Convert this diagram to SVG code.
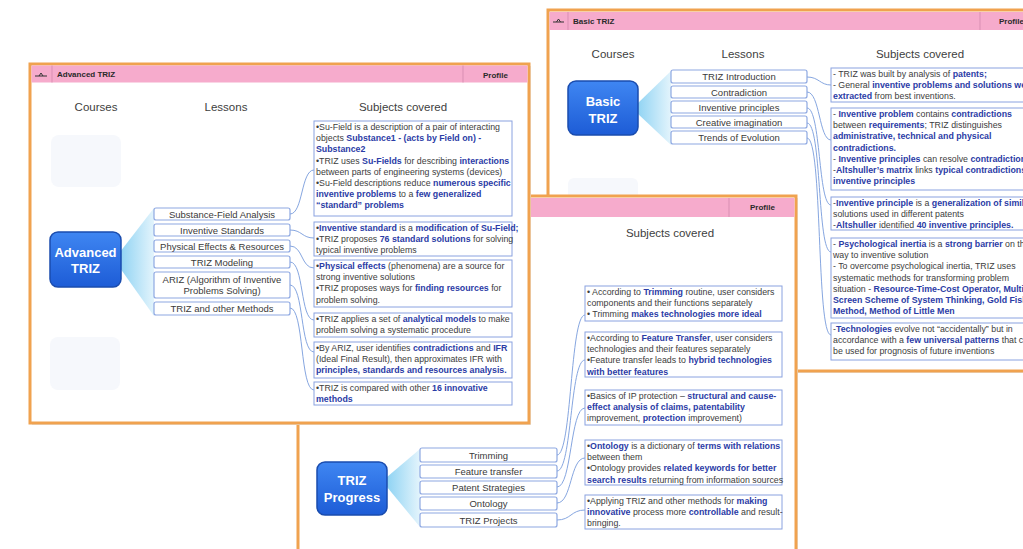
<svg xmlns="http://www.w3.org/2000/svg" width="1023" height="549" viewBox="0 0 1023 549">
<defs>
<linearGradient id="gb" x1="0" y1="0" x2="0" y2="1"><stop offset="0" stop-color="#3f86f2"/><stop offset="1" stop-color="#1d5cd6"/></linearGradient>
<linearGradient id="gf" x1="0" y1="0" x2="1" y2="0"><stop offset="0" stop-color="#8fd3f3"/><stop offset="1" stop-color="#e3f4fc"/></linearGradient>
<style>
.slide{fill:#fff;stroke:#f0a24f;stroke-width:3}
.shadow{fill:#e6e6e6}
.hdr{fill:#f6abcc}
.sep{stroke:#d98fb3;stroke-width:1}
.htxt{font-family:"Liberation Sans",Arial,sans-serif;font-size:8px;font-weight:bold;fill:#2a2a2a}
.col{font-family:"Liberation Sans",Arial,sans-serif;font-size:11.5px;fill:#404040;text-anchor:middle}
.cbox{fill:url(#gb);stroke:#1a4cae;stroke-width:1.5}
.ctxt{font-family:"Liberation Sans",Arial,sans-serif;font-size:13px;font-weight:bold;fill:#fff;text-anchor:middle}
.ghost{fill:#f6f8fc}
.fan{fill:url(#gf)}
.lbox{fill:#fff;stroke:#8ea8e2;stroke-width:1.2}
.ltxt{font-family:"Liberation Sans Narrow","Liberation Sans",Arial,sans-serif;font-size:9.5px;fill:#3a3a3a;text-anchor:middle}
.sbox{fill:#fff;stroke:#8aa2e0;stroke-width:1}
.stxt{font-family:"Liberation Sans Narrow","Liberation Sans",Arial,sans-serif;font-size:8.8px;fill:#3c3c3c}
.b{font-weight:bold;fill:#2b3ca6}
.conn{fill:none;stroke:#86a6e0;stroke-width:1}
.icon{fill:none;stroke:#333;stroke-width:1}
</style>
</defs>
<rect width="1023" height="549" fill="#fff"/>

<!-- ===== Basic TRIZ slide (back) ===== -->
<g id="slide-basic">
<rect class="shadow" x="550" y="12" width="490" height="361"/>
<rect class="slide" x="548" y="10" width="490" height="361"/>
<rect class="hdr" x="549.5" y="12" width="480" height="18"/>
<line class="sep" x1="568" y1="12" x2="568" y2="30"/>
<line class="sep" x1="980" y1="12" x2="980" y2="30"/>
<path class="icon" d="M553,22 h11 M556.5,22 l2,-3 l2,3"/>
<text class="htxt" x="573" y="24">Basic TRIZ</text>
<text class="htxt" x="999" y="24">Profile</text>
<text class="col" x="613" y="58">Courses</text>
<text class="col" x="743" y="58">Lessons</text>
<text class="col" x="920" y="58">Subjects covered</text>
<rect class="ghost" x="568" y="178" width="70" height="30" rx="6"/>
</g>
<g id="basic-course">
<polygon class="fan" points="637,104 671,71 671,145 637,113"/>
<rect class="cbox" x="568" y="81" width="70" height="54" rx="8"/>
<text class="ctxt" x="603" y="106">Basic</text>
<text class="ctxt" x="603" y="123">TRIZ</text>
</g>
<g id="basic-lessons">
<rect class="lbox" x="671" y="70" width="136" height="13" rx="2"/><text class="ltxt" x="739" y="80">TRIZ Introduction</text>
<rect class="lbox" x="671" y="86" width="136" height="12" rx="2"/><text class="ltxt" x="739" y="95.5">Contradiction</text>
<rect class="lbox" x="671" y="101" width="136" height="12" rx="2"/><text class="ltxt" x="739" y="110.5">Inventive principles</text>
<rect class="lbox" x="671" y="116" width="136" height="12" rx="2"/><text class="ltxt" x="739" y="125.5">Creative imagination</text>
<rect class="lbox" x="671" y="131" width="136" height="13" rx="2"/><text class="ltxt" x="739" y="141">Trends of Evolution</text>
</g>
<g id="basic-subjects">
<rect class="sbox" x="831" y="68" width="200" height="34"/>
<text class="stxt" x="833" y="77">- TRIZ was built by analysis of <tspan class="b">patents;</tspan></text>
<text class="stxt" x="833" y="88.2">- General <tspan class="b">inventive problems and solutions were</tspan></text>
<text class="stxt" x="833" y="99.4"><tspan class="b">extracted</tspan> from best inventions.</text>
<rect class="sbox" x="831" y="108" width="200" height="82"/>
<text class="stxt" x="833" y="117">- <tspan class="b">Inventive problem</tspan> contains <tspan class="b">contradictions</tspan></text>
<text class="stxt" x="833" y="128.2">between <tspan class="b">requirements</tspan>; TRIZ distinguishes</text>
<text class="stxt" x="833" y="139.4"><tspan class="b">administrative, technical and physical</tspan></text>
<text class="stxt" x="833" y="150.6"><tspan class="b">contradictions.</tspan></text>
<text class="stxt" x="833" y="161.8">- <tspan class="b">Inventive principles</tspan> can resolve <tspan class="b">contradictions</tspan></text>
<text class="stxt" x="833" y="173">-<tspan class="b">Altshuller’s matrix</tspan> links <tspan class="b">typical contradictions</tspan> to</text>
<text class="stxt" x="833" y="184.2"><tspan class="b">inventive principles</tspan></text>
<rect class="sbox" x="831" y="197" width="200" height="33"/>
<text class="stxt" x="833" y="206">-<tspan class="b">Inventive principle</tspan> is a <tspan class="b">generalization of similar</tspan></text>
<text class="stxt" x="833" y="217.2">solutions used in different patents</text>
<text class="stxt" x="833" y="228.4">-<tspan class="b">Altshuller</tspan> identified <tspan class="b">40 inventive principles.</tspan></text>
<rect class="sbox" x="831" y="238" width="200" height="80"/>
<text class="stxt" x="833" y="247">- <tspan class="b">Psychological inertia</tspan> is a <tspan class="b">strong barrier</tspan> on the</text>
<text class="stxt" x="833" y="258.2">way to inventive solution</text>
<text class="stxt" x="833" y="269.4">- To overcome psychological inertia, TRIZ uses</text>
<text class="stxt" x="833" y="280.6">systematic methods for transforming problem</text>
<text class="stxt" x="833" y="291.8">situation - <tspan class="b">Resource-Time-Cost Operator, Multi-</tspan></text>
<text class="stxt" x="833" y="303"><tspan class="b">Screen Scheme of System Thinking, Gold Fish</tspan></text>
<text class="stxt" x="833" y="314.2"><tspan class="b">Method, Method of Little Men</tspan></text>
<rect class="sbox" x="831" y="323" width="200" height="37"/>
<text class="stxt" x="833" y="332">-<tspan class="b">Technologies</tspan> evolve not “accidentally” but in</text>
<text class="stxt" x="833" y="343.2">accordance with a <tspan class="b">few universal patterns</tspan> that can</text>
<text class="stxt" x="833" y="354.4">be used for prognosis of future inventions</text>
</g>
<g id="basic-connectors">
<path class="conn" d="M807,77 C819,77 820,85 831,85"/>
<path class="conn" d="M807,92 C820,92 819,140 831,140"/>
<path class="conn" d="M807,108 C821,108 818,205 831,205"/>
<path class="conn" d="M807,123 C822,123 817,252 831,252"/>
<path class="conn" d="M807,138 C823,138 816,335 831,335"/>
</g>

<!-- ===== TRIZ Progress slide (middle) ===== -->
<g id="slide-progress">
<rect class="shadow" x="300" y="198" width="498" height="370"/>
<rect class="slide" x="298" y="196" width="498" height="370"/>
<rect class="hdr" x="299.5" y="198" width="495" height="19"/>
<line class="sep" x1="729" y1="198" x2="729" y2="217"/>
<text class="htxt" x="750" y="210">Profile</text>
<text class="col" x="670" y="237">Subjects covered</text>
</g>
<g id="progress-course">
<polygon class="fan" points="387,477 420,449 420,527 387,487"/>
<rect class="cbox" x="317" y="462" width="70" height="53" rx="8"/>
<text class="ctxt" x="352" y="485">TRIZ</text>
<text class="ctxt" x="352" y="502">Progress</text>
</g>
<g id="progress-lessons">
<rect class="lbox" x="420" y="448" width="137" height="14" rx="2"/><text class="ltxt" x="488.5" y="458.5">Trimming</text>
<rect class="lbox" x="420" y="465" width="137" height="13" rx="2"/><text class="ltxt" x="488.5" y="475">Feature transfer</text>
<rect class="lbox" x="420" y="481" width="137" height="13" rx="2"/><text class="ltxt" x="488.5" y="491">Patent Strategies</text>
<rect class="lbox" x="420" y="497" width="137" height="13" rx="2"/><text class="ltxt" x="488.5" y="507">Ontology</text>
<rect class="lbox" x="420" y="513" width="137" height="14" rx="2"/><text class="ltxt" x="488.5" y="523.5">TRIZ Projects</text>
</g>
<g id="progress-subjects">
<rect class="sbox" x="585" y="286" width="197" height="35"/>
<text class="stxt" x="587" y="295">• According to <tspan class="b">Trimming</tspan> routine, user considers</text>
<text class="stxt" x="587" y="306.2">components and their functions separately</text>
<text class="stxt" x="587" y="317.4">• Trimming <tspan class="b">makes technologies more ideal</tspan></text>
<rect class="sbox" x="585" y="332" width="197" height="45"/>
<text class="stxt" x="587" y="341">•According to <tspan class="b">Feature Transfer</tspan>, user considers</text>
<text class="stxt" x="587" y="352.2">technologies and their features separately</text>
<text class="stxt" x="587" y="363.4">•Feature transfer leads to <tspan class="b">hybrid technologies</tspan></text>
<text class="stxt" x="587" y="374.6"><tspan class="b">with better features</tspan></text>
<rect class="sbox" x="585" y="390" width="197" height="35"/>
<text class="stxt" x="587" y="399">•Basics of IP protection – <tspan class="b">structural and cause-</tspan></text>
<text class="stxt" x="587" y="410.2"><tspan class="b">effect analysis of claims, patentability</tspan></text>
<text class="stxt" x="587" y="421.4">improvement, <tspan class="b">protection</tspan> improvement)</text>
<rect class="sbox" x="585" y="440" width="197" height="45"/>
<text class="stxt" x="587" y="449">•<tspan class="b">Ontology</tspan> is a dictionary of <tspan class="b">terms with relations</tspan></text>
<text class="stxt" x="587" y="460.2">between them</text>
<text class="stxt" x="587" y="471.4">•Ontology provides <tspan class="b">related keywords for better</tspan></text>
<text class="stxt" x="587" y="482.6"><tspan class="b">search results</tspan> returning from information sources</text>
<rect class="sbox" x="585" y="495" width="197" height="34"/>
<text class="stxt" x="587" y="504">•Applying TRIZ and other methods for <tspan class="b">making</tspan></text>
<text class="stxt" x="587" y="515.2"><tspan class="b">innovative</tspan> process more <tspan class="b">controllable</tspan> and result-</text>
<text class="stxt" x="587" y="526.4">bringing.</text>
</g>
<g id="progress-connectors">
<path class="conn" d="M557,455 C572,455 570,315 585,315"/>
<path class="conn" d="M557,471 C572,471 570,360 585,360"/>
<path class="conn" d="M557,487 C572,487 570,408 585,408"/>
<path class="conn" d="M557,503 C572,503 570,458 585,458"/>
<path class="conn" d="M557,520 C571,520 571,510 585,510"/>
</g>

<!-- ===== Advanced TRIZ slide (front) ===== -->
<g id="slide-advanced">
<rect class="shadow" x="32" y="66" width="499" height="359"/>
<rect class="slide" x="30" y="64" width="499" height="359"/>
<rect class="hdr" x="31.5" y="65.5" width="496" height="17"/>
<line class="sep" x1="52" y1="65.5" x2="52" y2="82.5"/>
<line class="sep" x1="463" y1="65.5" x2="463" y2="82.5"/>
<path class="icon" d="M35,76 h12 M39,76 l2,-3 l2,3"/>
<text class="htxt" x="57" y="77">Advanced TRIZ</text>
<text class="htxt" x="483" y="78">Profile</text>
<text class="col" x="96" y="111">Courses</text>
<text class="col" x="226" y="111">Lessons</text>
<text class="col" x="403" y="111">Subjects covered</text>
<rect class="ghost" x="51" y="135" width="70" height="52" rx="8"/>
<rect class="ghost" x="50" y="337" width="70" height="53" rx="8"/>
</g>
<g id="advanced-course">
<polygon class="fan" points="120,252 154,208 154,316 120,268"/>
<rect class="cbox" x="50" y="232" width="71" height="55" rx="8"/>
<text class="ctxt" x="85.5" y="257">Advanced</text>
<text class="ctxt" x="85.5" y="273">TRIZ</text>
</g>
<g id="advanced-lessons">
<rect class="lbox" x="154" y="208" width="136" height="12" rx="2"/><text class="ltxt" x="222" y="217.5">Substance-Field Analysis</text>
<rect class="lbox" x="154" y="224" width="136" height="12" rx="2"/><text class="ltxt" x="222" y="233.5">Inventive Standards</text>
<rect class="lbox" x="154" y="240" width="136" height="12" rx="2"/><text class="ltxt" x="222" y="249.5">Physical Effects &amp; Resources</text>
<rect class="lbox" x="154" y="256" width="136" height="12" rx="2"/><text class="ltxt" x="222" y="265.5">TRIZ Modeling</text>
<rect class="lbox" x="154" y="272" width="136" height="26" rx="2"/><text class="ltxt" x="222" y="283">ARIZ (Algorithm of Inventive</text><text class="ltxt" x="222" y="294">Problems Solving)</text>
<rect class="lbox" x="154" y="302" width="136" height="13" rx="2"/><text class="ltxt" x="222" y="312">TRIZ and other Methods</text>
</g>
<g id="advanced-subjects">
<rect class="sbox" x="314" y="121" width="198" height="95"/>
<text class="stxt" x="316" y="130">•Su-Field is a description of a pair of interacting</text>
<text class="stxt" x="316" y="141.2">objects <tspan class="b">Substance1 - (acts by Field on) -</tspan></text>
<text class="stxt" x="316" y="152.4"><tspan class="b">Substance2</tspan></text>
<text class="stxt" x="316" y="163.6">•TRIZ uses <tspan class="b">Su-Fields</tspan> for describing  <tspan class="b">interactions</tspan></text>
<text class="stxt" x="316" y="174.8">between parts of engineering systems (devices)</text>
<text class="stxt" x="316" y="186">•Su-Field descriptions reduce <tspan class="b">numerous  specific</tspan></text>
<text class="stxt" x="316" y="197.2"><tspan class="b">inventive problems</tspan> to a <tspan class="b">few generalized</tspan></text>
<text class="stxt" x="316" y="208.4"><tspan class="b">“standard” problems</tspan></text>
<rect class="sbox" x="314" y="222" width="198" height="34"/>
<text class="stxt" x="316" y="231">•<tspan class="b">Inventive standard</tspan> is a <tspan class="b">modification of Su-Field;</tspan></text>
<text class="stxt" x="316" y="242.2">•TRIZ proposes <tspan class="b">76 standard solutions</tspan> for solving</text>
<text class="stxt" x="316" y="253.4">typical inventive problems</text>
<rect class="sbox" x="314" y="260" width="198" height="47"/>
<text class="stxt" x="316" y="269">•<tspan class="b">Physical effects</tspan> (phenomena) are a source for</text>
<text class="stxt" x="316" y="280.2">strong inventive solutions</text>
<text class="stxt" x="316" y="291.4">•TRIZ proposes ways for <tspan class="b">finding resources</tspan> for</text>
<text class="stxt" x="316" y="302.6">problem solving.</text>
<rect class="sbox" x="314" y="313" width="198" height="24"/>
<text class="stxt" x="316" y="322">•TRIZ applies a set of <tspan class="b">analytical models</tspan> to make</text>
<text class="stxt" x="316" y="333.2">problem solving a systematic procedure</text>
<rect class="sbox" x="314" y="342" width="198" height="36"/>
<text class="stxt" x="316" y="351">•By ARIZ, user identifies  <tspan class="b">contradictions</tspan> and <tspan class="b">IFR</tspan></text>
<text class="stxt" x="316" y="362.2">(Ideal Final Result), then approximates IFR with</text>
<text class="stxt" x="316" y="373.4"><tspan class="b">principles, standards and resources analysis.</tspan></text>
<rect class="sbox" x="314" y="382" width="198" height="23"/>
<text class="stxt" x="316" y="391">•TRIZ is compared with other <tspan class="b">16  innovative</tspan></text>
<text class="stxt" x="316" y="402.2"><tspan class="b">methods</tspan></text>
</g>
<g id="advanced-connectors">
<path class="conn" d="M290,214 C303,214 301,170 314,170"/>
<path class="conn" d="M290,230 C302,230 302,238 314,238"/>
<path class="conn" d="M290,246 C303,246 301,268 314,268"/>
<path class="conn" d="M290,262 C304,262 300,320 314,320"/>
<path class="conn" d="M290,285 C304,285 300,352 314,352"/>
<path class="conn" d="M290,308 C304,308 300,390 314,390"/>
</g>
</svg>
